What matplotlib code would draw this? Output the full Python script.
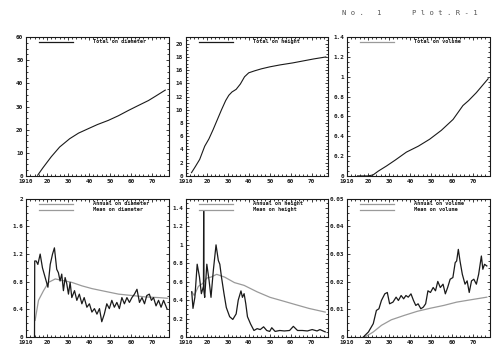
"""Six-panel tree growth (stem analysis) chart, Plot R-1."""
import matplotlib
matplotlib.use("Agg")
import matplotlib.pyplot as plt
from matplotlib.ticker import MultipleLocator

# ── Data ────────────────────────────────────────────────────
tot_d_years = [1915.5, 1918, 1922, 1926, 1930.8, 1935, 1939.6, 1944, 1949.2,
               1954, 1958.8, 1963, 1968.4, 1972, 1976.4]
tot_d_vals = [0.3, 3.5, 8.3, 12.5, 16.1, 18.5, 20.4, 22.2, 24.0, 26.0, 28.3,
              30.2, 32.6, 34.6, 37.1]

tot_h_years = [1912.7, 1914.5, 1916.6, 1919, 1921, 1923, 1925, 1927, 1929,
               1930.5, 1932, 1934, 1936, 1938, 1940, 1942.8, 1946, 1950,
               1955, 1961, 1966, 1971, 1976.8]
tot_h_vals = [0.5, 1.4, 2.5, 4.5, 5.6, 7.0, 8.5, 10.0, 11.4, 12.2, 12.7, 13.1,
              13.9, 15.0, 15.6, 15.9, 16.2, 16.5, 16.8, 17.1, 17.4, 17.7, 18.0]

tot_v_years = [1915, 1920, 1922.4, 1925, 1928.8, 1933, 1938.3, 1944, 1949.4,
               1955, 1960.6, 1965.3, 1968, 1971.7, 1977.3]
tot_v_vals = [0.0, 0.0, 0.01, 0.05, 0.1, 0.16, 0.24, 0.3, 0.37, 0.46, 0.57,
              0.71, 0.76, 0.84, 0.98]

ann_d_years = [1914, 1914.1, 1914.8, 1915.6, 1916.7, 1917.8, 1919.1, 1920.4,
               1921.5, 1922.6, 1923.5, 1924.6, 1925.4, 1926.2, 1927, 1927.8,
               1928.6, 1929.4, 1930.2, 1931, 1931.8, 1933.1, 1934.2, 1935.4,
               1936.6, 1937.7, 1939, 1940.2, 1941.4, 1942.6, 1943.8, 1945,
               1946.1, 1947.3, 1948.5, 1949.7, 1950.9, 1952.1, 1953.3, 1954.5,
               1955.7, 1956.9, 1958.1, 1959.3, 1960.5, 1961.7, 1962.9, 1964.1,
               1965.3, 1966.5, 1967.6, 1968.8, 1969.8, 1970.8, 1972, 1973.2,
               1974.4, 1975.6, 1977.2]
ann_d_vals = [0.0, 1.1, 1.1, 1.05, 1.2, 1.0, 0.86, 0.72, 1.05, 1.2, 1.29,
              0.98, 0.93, 0.81, 0.91, 0.67, 0.86, 0.77, 0.62, 0.79, 0.57,
              0.67, 0.53, 0.62, 0.48, 0.57, 0.43, 0.48, 0.36, 0.41, 0.33,
              0.41, 0.22, 0.33, 0.48, 0.41, 0.53, 0.43, 0.5, 0.41, 0.57, 0.48,
              0.57, 0.5, 0.57, 0.62, 0.69, 0.5, 0.57, 0.48, 0.6, 0.62, 0.53,
              0.57, 0.45, 0.53, 0.43, 0.53, 0.41]

mean_d_years = [1914.3, 1915.9, 1918.3, 1920.7, 1923.9, 1927, 1931.8, 1936.6,
                1941.4, 1947.7, 1954.1, 1960.5, 1966.8, 1973.2, 1977.5]
mean_d_vals = [0.24, 0.53, 0.67, 0.79, 0.84, 0.82, 0.79, 0.74, 0.7, 0.66,
               0.62, 0.6, 0.58, 0.57, 0.56]

ann_h_years = [1912.8, 1913.4, 1914.3, 1915.4, 1916.5, 1917.4, 1918.4, 1918.5,
               1918.6, 1919, 1920, 1921.1, 1922, 1923.1, 1924.4, 1925.5, 1926.2,
               1927, 1928.2, 1929.3, 1930.9, 1932.4, 1934, 1935, 1936.3, 1937,
               1937.8, 1938.6, 1939.4, 1940.9, 1942.5, 1944, 1945.5, 1947.1,
               1948.6, 1950, 1951, 1952.6, 1954.8, 1957, 1959.5, 1961.3, 1963.3,
               1965.6, 1968, 1970.3, 1972.6, 1974, 1976.5]
ann_h_vals = [0.49, 0.31, 0.43, 0.79, 0.65, 0.47, 0.55, 1.37, 0.5, 0.43, 0.79,
              0.61, 0.43, 0.72, 1.0, 0.83, 0.79, 0.65, 0.47, 0.32, 0.22, 0.19,
              0.25, 0.4, 0.5, 0.43, 0.47, 0.36, 0.22, 0.14, 0.07, 0.09, 0.08,
              0.11, 0.07, 0.06, 0.1, 0.06, 0.07, 0.065, 0.07, 0.115, 0.07,
              0.07, 0.065, 0.08, 0.065, 0.08, 0.055]

mean_h_years = [1912.8, 1914, 1916, 1918, 1920, 1922, 1924.7, 1928.5, 1933.2,
                1937.8, 1944, 1950.2, 1956.4, 1962.5, 1968.7, 1976.5]
mean_h_vals = [0.49, 0.45, 0.55, 0.58, 0.64, 0.65, 0.68, 0.65, 0.59, 0.56,
               0.49, 0.43, 0.39, 0.35, 0.31, 0.27]

ann_v_years = [1917.8, 1920.2, 1922.5, 1924, 1925.2, 1926.4, 1928, 1929.2,
               1930.3, 1931.9, 1933.4, 1934.5, 1935.8, 1937, 1938.1, 1939.2,
               1940.5, 1941.7, 1942.8, 1943.9, 1945.2, 1946.4, 1947.5, 1948.6,
               1949.8, 1951.1, 1952.2, 1953.3, 1954.5, 1955.8, 1956.9, 1958,
               1959.2, 1960.5, 1961.6, 1962.3, 1963.1, 1963.9, 1965, 1966.3,
               1967.3, 1968.3, 1969.4, 1970.5, 1971.7, 1972.8, 1974.1, 1974.8,
               1975.6, 1976.7]
ann_v_vals = [0.0, 0.0018, 0.0048, 0.0096, 0.0102, 0.0132, 0.0156, 0.0161,
              0.012, 0.0126, 0.0144, 0.0132, 0.015, 0.0138, 0.015, 0.0144,
              0.0156, 0.0132, 0.0114, 0.012, 0.0102, 0.0108, 0.012, 0.0167,
              0.0161, 0.0179, 0.0167, 0.0201, 0.0179, 0.0191, 0.0156, 0.0179,
              0.0209, 0.0215, 0.0269, 0.0275, 0.0317, 0.0275, 0.0227, 0.0191,
              0.0203, 0.0161, 0.0203, 0.0209, 0.0191, 0.0227, 0.0293, 0.0245,
              0.0263, 0.0257]

mean_v_years = [1918.6, 1922.5, 1926.4, 1931.1, 1937.3, 1943.6, 1949.8,
                1956.1, 1962.3, 1968.6, 1976.7]
mean_v_vals = [0.0, 0.0018, 0.0042, 0.0062, 0.0078, 0.0093, 0.0104, 0.0114,
               0.0126, 0.0134, 0.0144]

x_ticks = [1910, 1920, 1930, 1940, 1950, 1960, 1970]
x_labels = ["1910", "20", "30", "40", "50", "60", "70"]

# ── Style ───────────────────────────────────────────────────
INK = "#1a1a1a"
GRAY = "#9a9a9a"
FONT = "DejaVu Sans Mono"

fig = plt.figure(figsize=(4.93, 3.47), dpi=100, facecolor="white")

W = 0.289
lefts = [0.053, 0.377, 0.704]
top_b, top_h = 0.493, 0.400
bot_b, bot_h = 0.029, 0.398


def make_axes(left, bottom, height, ylim, ymajor, yfmt):
    ax = fig.add_axes([left, bottom, W, height])
    ax.set_xlim(1910, 1978)
    ax.set_ylim(*ylim)
    ax.set_xticks(x_ticks)
    ax.set_xticklabels(x_labels)
    ax.yaxis.set_major_locator(MultipleLocator(ymajor))
    ax.yaxis.set_major_formatter(yfmt)
    ax.xaxis.set_minor_locator(MultipleLocator(2))
    ax.yaxis.set_minor_locator(MultipleLocator(ymajor / 4))
    ax.tick_params(which="both", direction="in", top=True, right=True,
                   colors=INK, width=0.6)
    ax.tick_params(which="major", length=2.5, labelsize=4.3, pad=2)
    ax.tick_params(which="minor", length=1.2)
    for lab in ax.get_xticklabels() + ax.get_yticklabels():
        lab.set_fontfamily(FONT)
        lab.set_fontweight("bold")
    for sp in ax.spines.values():
        sp.set_linestyle((0, (2, 1)))
        sp.set_linewidth(0.8)
        sp.set_color(INK)
    return ax


def fmt_num(v, pos):
    s = f"{v:.2f}".rstrip("0").rstrip(".")
    return s


def legend(ax, labels, colors):
    for i, (lab, col) in enumerate(zip(labels, colors)):
        y = 0.965 - i * 0.045
        ax.plot([0.09, 0.33], [y, y], color=col, lw=0.9,
                transform=ax.transAxes)
        ax.text(0.47, y, lab, transform=ax.transAxes, fontsize=3.8,
                family=FONT, fontweight="bold", color=INK, va="center")


# ── Top row: totals ─────────────────────────────────────────
ax1 = make_axes(lefts[0], top_b, top_h, (0, 60), 10, fmt_num)
ax1.plot(tot_d_years, tot_d_vals, color=INK, lw=0.8)
legend(ax1, ["Total on diameter"], [INK])

ax2 = make_axes(lefts[1], top_b, top_h, (0, 21), 2, fmt_num)
ax2.plot(tot_h_years, tot_h_vals, color=INK, lw=0.8)
legend(ax2, ["Total on height"], [INK])

ax3 = make_axes(lefts[2], top_b, top_h, (0, 1.4), 0.2, fmt_num)
ax3.plot(tot_v_years, tot_v_vals, color=INK, lw=0.8)
legend(ax3, ["Total on volume"], [GRAY])

# ── Bottom row: annual and mean increments ──────────────────
ax4 = make_axes(lefts[0], bot_b, bot_h, (0, 2), 0.4, fmt_num)
ax4.plot(mean_d_years, mean_d_vals, color=GRAY, lw=0.9)
ax4.plot(ann_d_years, ann_d_vals, color=INK, lw=0.9)
legend(ax4, ["Annual on diameter", "Mean on diameter"], [GRAY, GRAY])

ax5 = make_axes(lefts[1], bot_b, bot_h, (0, 1.5), 0.2, fmt_num)
ax5.plot(mean_h_years, mean_h_vals, color=GRAY, lw=0.9)
ax5.plot(ann_h_years, ann_h_vals, color=INK, lw=0.9)
legend(ax5, ["Annual on height", "Mean on height"], [GRAY, GRAY])

ax6 = make_axes(lefts[2], bot_b, bot_h, (0, 0.05), 0.01, fmt_num)
ax6.plot(mean_v_years, mean_v_vals, color=GRAY, lw=0.9)
ax6.plot(ann_v_years, ann_v_vals, color=INK, lw=0.9)
legend(ax6, ["Annual on volume", "Mean on volume"], [GRAY, GRAY])

# ── Header ──────────────────────────────────────────────────
fig.text(0.694, 0.962, "N o .   1", fontsize=5.2, family=FONT,
         color="#555555", va="center")
fig.text(0.836, 0.962, "P l o t . R - 1", fontsize=5.2, family=FONT,
         color="#555555", va="center")

plt.savefig("out.png", dpi=100, facecolor="white")
plt.close()
